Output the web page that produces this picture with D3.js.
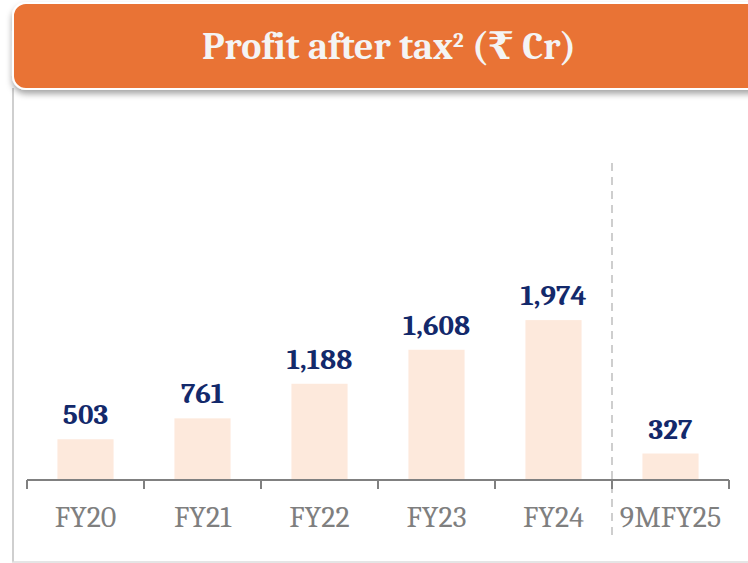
<!DOCTYPE html>
<html>
<head>
<meta charset="utf-8">
<script src="https://cdn.jsdelivr.net/npm/d3@7"></script>
<style>
  body { margin: 0; background: #fff; }
  svg { display: block; }
</style>
</head>
<body>
<div id="chart"></div>
<script>
// data
var years = ["FY20", "FY21", "FY22", "FY23", "FY24", "9MFY25"];
var profit = [503, 761, 1188, 1608, 1974, 327];
var profitLabels = ["503", "761", "1,188", "1,608", "1,974", "327"];
var titleMain = "Profit after tax";
var titleSup = "2";
var titleUnit = " (\u20b9 Cr)";

var width = 748, height = 563;
var serif = "Cambria, Caladea, 'Liberation Serif', 'DejaVu Serif', serif";

var svg = d3.select("#chart").append("svg")
    .attr("width", width)
    .attr("height", height);

var defs = svg.append("defs");
var shadow = defs.append("filter").attr("id", "shadow")
    .attr("x", "-5%").attr("y", "-10%").attr("width", "110%").attr("height", "130%");
shadow.append("feDropShadow")
    .attr("dx", 0).attr("dy", 4).attr("stdDeviation", 3)
    .attr("flood-color", "#000").attr("flood-opacity", 0.35);

// panel frame (left + bottom lines)
svg.append("line")
    .attr("x1", 13).attr("x2", 13).attr("y1", 88).attr("y2", 562)
    .attr("stroke", "#cfcfcf").attr("stroke-width", 2);
svg.append("line")
    .attr("x1", 12).attr("x2", width).attr("y1", 562).attr("y2", 562)
    .attr("stroke", "#dcdcdc").attr("stroke-width", 1.5);

// header
svg.append("rect")
    .attr("x", 13).attr("y", 3)
    .attr("width", width + 30).attr("height", 86)
    .attr("rx", 13)
    .attr("fill", "#e97334")
    .attr("stroke", "#fff").attr("stroke-width", 2)
    .attr("filter", "url(#shadow)");

var t = svg.append("text")
    .attr("x", 389).attr("y", 59)
    .attr("text-anchor", "middle")
    .attr("font-family", serif)
    .attr("font-weight", "bold")
    .attr("font-size", 38)
    .attr("fill", "#f4f4f4");
t.append("tspan").text(titleMain);
t.append("tspan").attr("font-size", 21).attr("dy", -12).text(titleSup);
t.append("tspan").attr("dy", 12).text(titleUnit);

// scales
var x = d3.scaleBand()
    .domain(years)
    .range([27, 729])
    .paddingInner(0.52)
    .paddingOuter(0.26);

var y = d3.scaleLinear()
    .domain([0, 2000])
    .range([480, 318]);

// bars
svg.selectAll("rect.bar")
    .data(years)
    .enter()
    .append("rect")
    .attr("class", "bar")
    .attr("x", function(d) { return x(d); })
    .attr("y", function(d, i) { return y(profit[i]); })
    .attr("width", x.bandwidth())
    .attr("height", function(d, i) { return y(0) - y(profit[i]); })
    .attr("fill", "#fde9dc");

// value labels
svg.selectAll("text.val")
    .data(years)
    .enter()
    .append("text")
    .attr("class", "val")
    .attr("x", function(d) { return x(d) + x.bandwidth() / 2; })
    .attr("y", function(d, i) { return y(profit[i]) - 15; })
    .attr("text-anchor", "middle")
    .attr("font-family", serif)
    .attr("font-weight", "bold")
    .attr("font-size", 29)
    .attr("fill", "#13296b")
    .text(function(d, i) { return profitLabels[i]; });

// divider before 9MFY25
var step = x.step();
var divX = 27 + step * 5;
svg.append("line")
    .attr("x1", divX).attr("x2", divX)
    .attr("y1", 163).attr("y2", 535)
    .attr("stroke", "#bfbfbf")
    .attr("stroke-width", 1.5)
    .attr("stroke-dasharray", "8,6");

// x axis
var axis = svg.append("g")
    .attr("transform", "translate(0,480)");
axis.append("line")
    .attr("x1", 27).attr("x2", 729)
    .attr("stroke", "#808080").attr("stroke-width", 2);
axis.selectAll("line.tick")
    .data(d3.range(years.length + 1))
    .enter()
    .append("line")
    .attr("class", "tick")
    .attr("x1", function(i) { return 27 + i * step; })
    .attr("x2", function(i) { return 27 + i * step; })
    .attr("y1", 0).attr("y2", 9)
    .attr("stroke", "#808080").attr("stroke-width", 2);
axis.selectAll("text")
    .data(years)
    .enter()
    .append("text")
    .attr("x", function(d) { return x(d) + x.bandwidth() / 2; })
    .attr("y", 47)
    .attr("text-anchor", "middle")
    .attr("font-family", serif)
    .attr("font-size", 30)
    .attr("fill", "#7f7f7f")
    .text(function(d) { return d; });
</script>
</body>
</html>
